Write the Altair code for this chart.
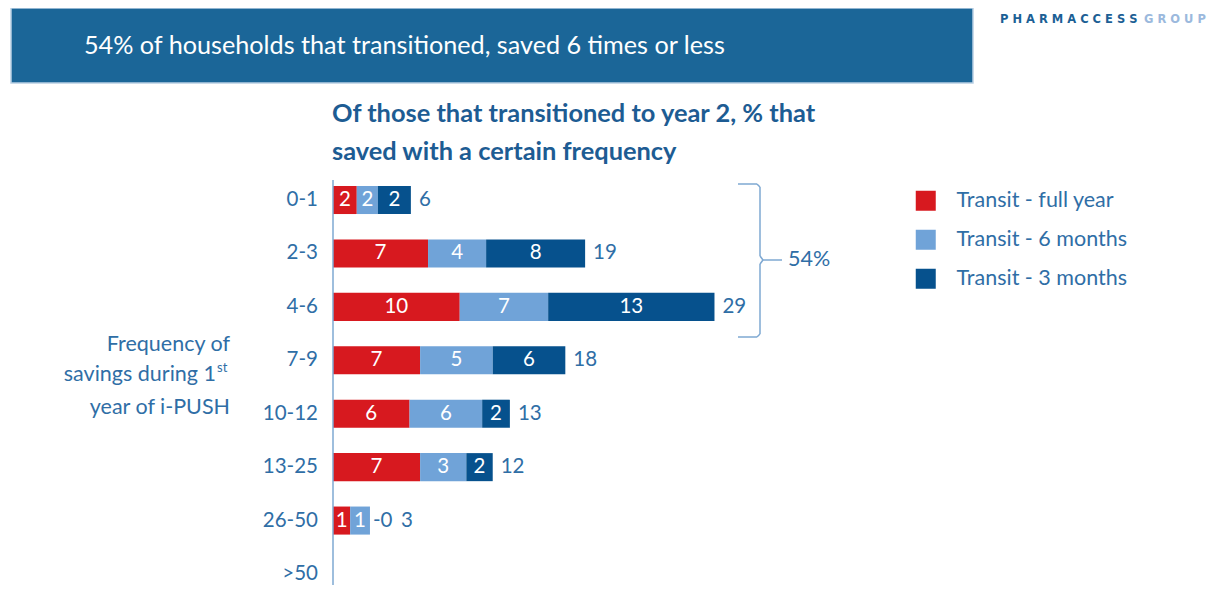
import altair as alt
import pandas as pd

# ---------------- data ----------------
categories = ["0-1", "2-3", "4-6", "7-9", "10-12", "13-25", "26-50", ">50"]
series = ["Transit - full year", "Transit - 6 months", "Transit - 3 months"]

full_year = [1.8, 7.2, 9.6, 6.6, 5.8, 6.6, 1.3]
six_months = [1.6, 4.4, 6.7, 5.5, 5.5, 3.5, 1.5]
three_months = [2.5, 7.5, 12.6, 5.5, 2.1, 2.0, 0.0]

full_year_lbl = ["2", "7", "10", "7", "6", "7", "1"]
six_months_lbl = ["2", "4", "7", "5", "6", "3", "1"]
three_months_lbl = ["2", "8", "13", "6", "2", "2", "0"]
total_lbl = ["6", "19", "29", "18", "13", "12", "3"]

banner_text = ["54% of households that transitioned, saved 6 times or less"]
logo_dark = ["P H A R M A C C E S S"]
logo_light = ["G R O U P"]
title_lines = ["Of those that transitioned to year 2, % that", "saved with a certain frequency"]
ytitle_lines = ["Frequency of", "savings during 1", "st", "year of i-PUSH"]
bracket_text = ["54%"]

colors = ["#d7191f", "#70a3d8", "#06518d"]
BLUE_TXT = "#2f6ea6"
TITLE_TXT = "#1d5c93"
FONT = "Lato"

# ---------------- tables ----------------
rows = []
for i, cat in enumerate(categories[:len(full_year)]):
    start = 0.0
    for k, (vals, lbls) in enumerate([(full_year, full_year_lbl),
                                      (six_months, six_months_lbl),
                                      (three_months, three_months_lbl)]):
        v = vals[i]
        rows.append({"cat": cat, "series": series[k], "order": k,
                     "value": v, "label": lbls[i],
                     "x0": start, "x1": start + v, "mid": start + v / 2,
                     "zl": "-" + lbls[i]})
        start += v
df = pd.DataFrame(rows)
df_pos = df[df["value"] > 0]
df_zero = df[df["value"] == 0]

tot = []
for i, cat in enumerate(categories[:len(full_year)]):
    s = full_year[i] + six_months[i] + three_months[i]
    tot.append({"cat": cat, "total": s,
                "pos": s + (1.75 if three_months[i] == 0 else 0.0),
                "label": total_lbl[i]})
tdf = pd.DataFrame(tot)
cdf = pd.DataFrame({"cat": categories, "name": categories, "base": [0.0] * len(categories)})

xs = alt.Scale(domain=[0, 30], range=[325, 721], nice=False, zero=False)
ys = alt.Scale(domain=categories, range=[165.3, 592.7],
               paddingInner=0.475, paddingOuter=0.2375)


def X(f):
    return alt.X(f, scale=xs, axis=None)


def Y():
    return alt.Y("cat:N", scale=ys, axis=None)


def one(texts):
    return pd.DataFrame({"t": texts})


def label(texts, x, y, align="left", size=21.5, color=BLUE_TXT, weight="normal", font=FONT):
    return alt.Chart(one(texts)).mark_text(
        align=align, baseline="middle", color=color, font=font,
        fontSize=size, fontWeight=weight
    ).encode(x=alt.value(x), y=alt.value(y), text="t:N")


# ---------------- header ----------------
banner = alt.Chart(one(banner_text)).mark_rect(
    color="#1b6698", stroke="#b9d0e4", strokeWidth=1.5
).encode(x=alt.value(3), x2=alt.value(965), y=alt.value(0), y2=alt.value(75))

banner_t = label(banner_text, 76, 38, size=25.2, color="white")
logo1 = label(logo_dark, 992, 12, size=11.5, color="#1c5f95", weight="bold", font="DejaVu Sans")
logo2 = label(logo_light, 1136, 12, size=11.5, color="#9bb9dd", weight="bold", font="DejaVu Sans")
title1 = label(title_lines[:1], 324, 106, size=25.4, color=TITLE_TXT, weight="bold")
title2 = label(title_lines[1:], 324, 144, size=25.4, color=TITLE_TXT, weight="bold")

# ---------------- y axis title ----------------
yt1 = label(ytitle_lines[0:1], 222, 337, align="right")
yt2 = label(ytitle_lines[1:2], 208, 367, align="right")
yt2s = label(ytitle_lines[2:3], 209, 360, size=13)
yt3 = label(ytitle_lines[3:4], 222, 400, align="right")

# ---------------- axis ----------------
axis_rule = alt.Chart(one(["axis"])).mark_rule(
    color="#7ea8d2", strokeWidth=1.5
).encode(x=alt.value(325), y=alt.value(172), y2=alt.value(585))

ylabels = alt.Chart(cdf).mark_text(
    align="right", baseline="middle", color=BLUE_TXT, font=FONT, fontSize=20.5, dx=-15
).encode(x=X("base:Q"), y=Y(), text="name:N")

# ---------------- bars ----------------
bars = alt.Chart(df).mark_bar(strokeWidth=0).encode(
    x=X("x0:Q"),
    x2="x1:Q",
    y=Y(),
    color=alt.Color(
        "series:N",
        scale=alt.Scale(domain=series, range=colors),
        legend=alt.Legend(
            orient="none", legendX=907, legendY=182, title=None,
            symbolType="square", symbolSize=400, symbolStrokeWidth=0,
            symbolOpacity=1, labelFontSize=21.5, labelFont=FONT,
            labelColor=BLUE_TXT, rowPadding=16, labelOffset=20, padding=0,
            labelLimit=300,
        ),
    ),
)

seg_labels = alt.Chart(df_pos).mark_text(
    align="center", baseline="middle", color="white", font=FONT, fontSize=20.5
).encode(x=X("mid:Q"), y=Y(), text="label:N")

zero_labels = alt.Chart(df_zero).mark_text(
    align="left", baseline="middle", color=BLUE_TXT, font=FONT, fontSize=20.5, dx=3
).encode(x=X("x0:Q"), y=Y(), text="zl:N")

totals = alt.Chart(tdf).mark_text(
    align="left", baseline="middle", color=BLUE_TXT, font=FONT, fontSize=20.5, dx=8
).encode(x=X("pos:Q"), y=Y(), text="label:N")

# ---------------- bracket ----------------
BR = "#7ea8d2"


def seg(x1, y1, x2, y2):
    return alt.Chart(one(bracket_text)).mark_rule(color=BR, strokeWidth=1.5).encode(
        x=alt.value(x1), y=alt.value(y1), x2=alt.value(x2), y2=alt.value(y2))


bracket = [
    seg(730, 176, 749, 176),
    seg(749, 176, 752, 179),
    seg(752, 179, 752, 248),
    seg(752, 248, 755, 252),
    seg(755, 252, 752, 256),
    seg(752, 256, 752, 326),
    seg(752, 326, 749, 329),
    seg(749, 329, 730, 329),
    seg(755, 252, 774, 252),
]

pct = label(bracket_text, 780, 252)

chart = alt.layer(
    banner, banner_t, logo1, logo2, title1, title2,
    yt1, yt2, yt2s, yt3,
    bars, axis_rule, seg_labels, zero_labels, totals, ylabels,
    *bracket, pct,
).properties(
    width=1205, height=577, padding=0,
    autosize=alt.AutoSizeParams(type="none"),
    background="white",
).configure_view(stroke=None)

chart.save("out.html", embed_options={"renderer": "svg", "actions": False})
